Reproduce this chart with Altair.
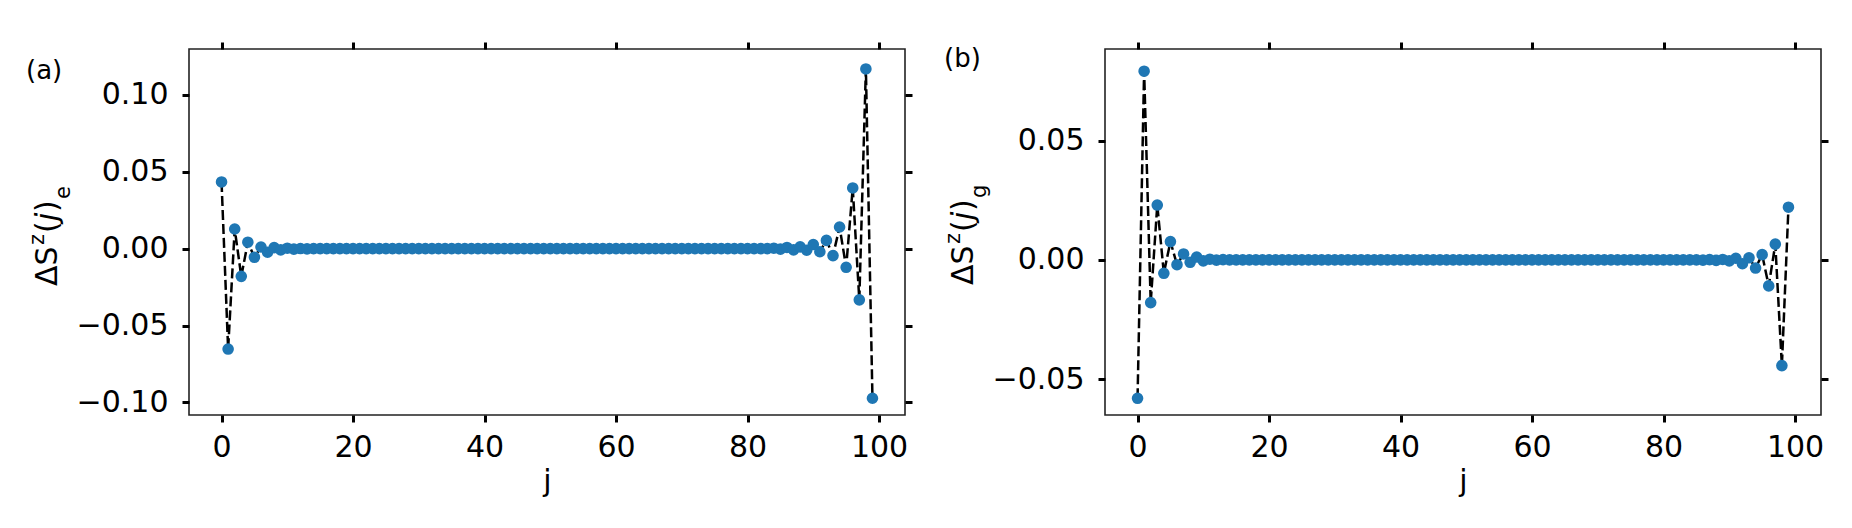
import altair as alt
import pandas as pd

# ---------------- data ----------------
j_index = list(range(100))

dsz_e = [
    0.0434, -0.0653, 0.0128, -0.0180, 0.0042, -0.0056, 0.0011, -0.0023, 0.0007, -0.0008,
    0.0003, -0.0003, 0.0001, -0.0001, 0.0, 0.0, 0.0, 0.0, 0.0, 0.0,
    0.0, 0.0, 0.0, 0.0, 0.0, 0.0, 0.0, 0.0, 0.0, 0.0,
    0.0, 0.0, 0.0, 0.0, 0.0, 0.0, 0.0, 0.0, 0.0, 0.0,
    0.0, 0.0, 0.0, 0.0, 0.0, 0.0, 0.0, 0.0, 0.0, 0.0,
    0.0, 0.0, 0.0, 0.0, 0.0, 0.0, 0.0, 0.0, 0.0, 0.0,
    0.0, 0.0, 0.0, 0.0, 0.0, 0.0, 0.0, 0.0, 0.0, 0.0,
    0.0, 0.0, 0.0, 0.0, 0.0, 0.0, 0.0, 0.0, 0.0, 0.0,
    0.0, 0.0, 0.0, 0.0, 0.0003, -0.0003, 0.0008, -0.0008, 0.0012, -0.0010,
    0.0027, -0.0020, 0.0054, -0.0045, 0.0141, -0.0121, 0.0395, -0.0333, 0.1169, -0.0973,
]

dsz_g = [
    -0.0580, 0.0791, -0.0179, 0.0230, -0.0056, 0.0077, -0.0020, 0.0025, -0.0010, 0.0012,
    -0.0004, 0.0003, -0.0001, 0.0001, 0.0, 0.0, 0.0, 0.0, 0.0, 0.0,
    0.0, 0.0, 0.0, 0.0, 0.0, 0.0, 0.0, 0.0, 0.0, 0.0,
    0.0, 0.0, 0.0, 0.0, 0.0, 0.0, 0.0, 0.0, 0.0, 0.0,
    0.0, 0.0, 0.0, 0.0, 0.0, 0.0, 0.0, 0.0, 0.0, 0.0,
    0.0, 0.0, 0.0, 0.0, 0.0, 0.0, 0.0, 0.0, 0.0, 0.0,
    0.0, 0.0, 0.0, 0.0, 0.0, 0.0, 0.0, 0.0, 0.0, 0.0,
    0.0, 0.0, 0.0, 0.0, 0.0, 0.0, 0.0, 0.0, 0.0, 0.0,
    0.0, 0.0, 0.0, 0.0, 0.0, 0.0, -0.0001, 0.0001, -0.0002, 0.0002,
    -0.0004, 0.0007, -0.0016, 0.0009, -0.0034, 0.0022, -0.0109, 0.0066, -0.0443, 0.0221,
]

x_ticks = [0, 20, 40, 60, 80, 100]
y_ticks_e = [-0.10, -0.05, 0.00, 0.05, 0.10]
y_ticks_g = [-0.05, 0.00, 0.05]
panel_tags = ["(a)", "(b)"]
sub_e = "e"
sub_g = "g"

x_domain = [-4.95, 103.95]
y_domain_e = [-0.1082, 0.1299]
y_domain_g = [-0.0650, 0.0884]

FONT = "DejaVu Sans"
F = 30
FS = 21
W, H = 716, 366


def txt(s, x, y, size, angle=None, style=None):
    props = dict(font=FONT, fontSize=size, align="left", baseline="alphabetic", color="black")
    if angle is not None:
        props["angle"] = angle
    if style is not None:
        props["fontStyle"] = style
    return alt.Chart(pd.DataFrame({"t": [s]})).mark_text(**props).encode(
        text="t:N", x=alt.value(x), y=alt.value(y)
    )


def panel(vals, ydom, yticks, tag, tag_x, tag_y, sub, lab_y0):
    df = pd.DataFrame({"j": j_index, "v": vals})
    xs = alt.Scale(domain=x_domain, nice=False, zero=False)
    ys = alt.Scale(domain=ydom, nice=False, zero=False)
    common = dict(domain=False, grid=False, tickSize=7, tickWidth=3, tickColor="black")
    line = alt.Chart(df).mark_line(color="black", strokeDash=[10, 4], strokeWidth=2.5).encode(
        x=alt.X("j:Q", scale=xs,
                axis=alt.Axis(orient="bottom", values=x_ticks, format="d", title="j",
                              labelFontSize=F, labelPadding=10, titleFontSize=F,
                              titleFontWeight="normal", titlePadding=4, labelColor="black",
                              titleColor="black", labelFont=FONT, titleFont=FONT, **common)),
        y=alt.Y("v:Q", scale=ys,
                axis=alt.Axis(orient="left", values=yticks, format=".2f", title=None,
                              labelFontSize=F, labelPadding=14, labelColor="black",
                              labelFont=FONT, **common)),
    )
    pts = alt.Chart(df).mark_circle(size=135, color="#1f77b4", opacity=1).encode(
        x=alt.X("j:Q", scale=xs,
                axis=alt.Axis(orient="top", values=x_ticks, labels=False, title=None, **common)),
        y=alt.Y("v:Q", scale=ys,
                axis=alt.Axis(orient="right", values=yticks, labels=False, title=None, **common)),
    )
    y0 = lab_y0
    texts = [
        txt(tag, tag_x, tag_y, 26),
        txt("ΔS", -132, y0, F, angle=270),
        txt("z", -145, y0 - 41, FS, angle=270),
        txt("(", -132, y0 - 53, F, angle=270),
        txt("j", -132, y0 - 65, F, angle=270, style="italic"),
        txt(")", -132, y0 - 74, F, angle=270),
        txt(sub, -119, y0 - 87, FS, angle=270),
    ]
    return alt.layer(line, pts, *texts).resolve_axis(x="independent", y="independent").properties(
        width=W, height=H
    )


pa = panel(dsz_e, y_domain_e, y_ticks_e, panel_tags[0], -163, 30, sub_e, 237)
pb = panel(dsz_g, y_domain_g, y_ticks_g, panel_tags[1], -161, 18, sub_g, 236)

chart = alt.hconcat(pa, pb, spacing=27).properties(
    padding={"left": 17, "top": 31, "right": 5, "bottom": 5}
).configure(font=FONT).configure_view(stroke="#222222", strokeWidth=1.6)

chart.save("out.html", embed_options={"renderer": "svg", "actions": False})
